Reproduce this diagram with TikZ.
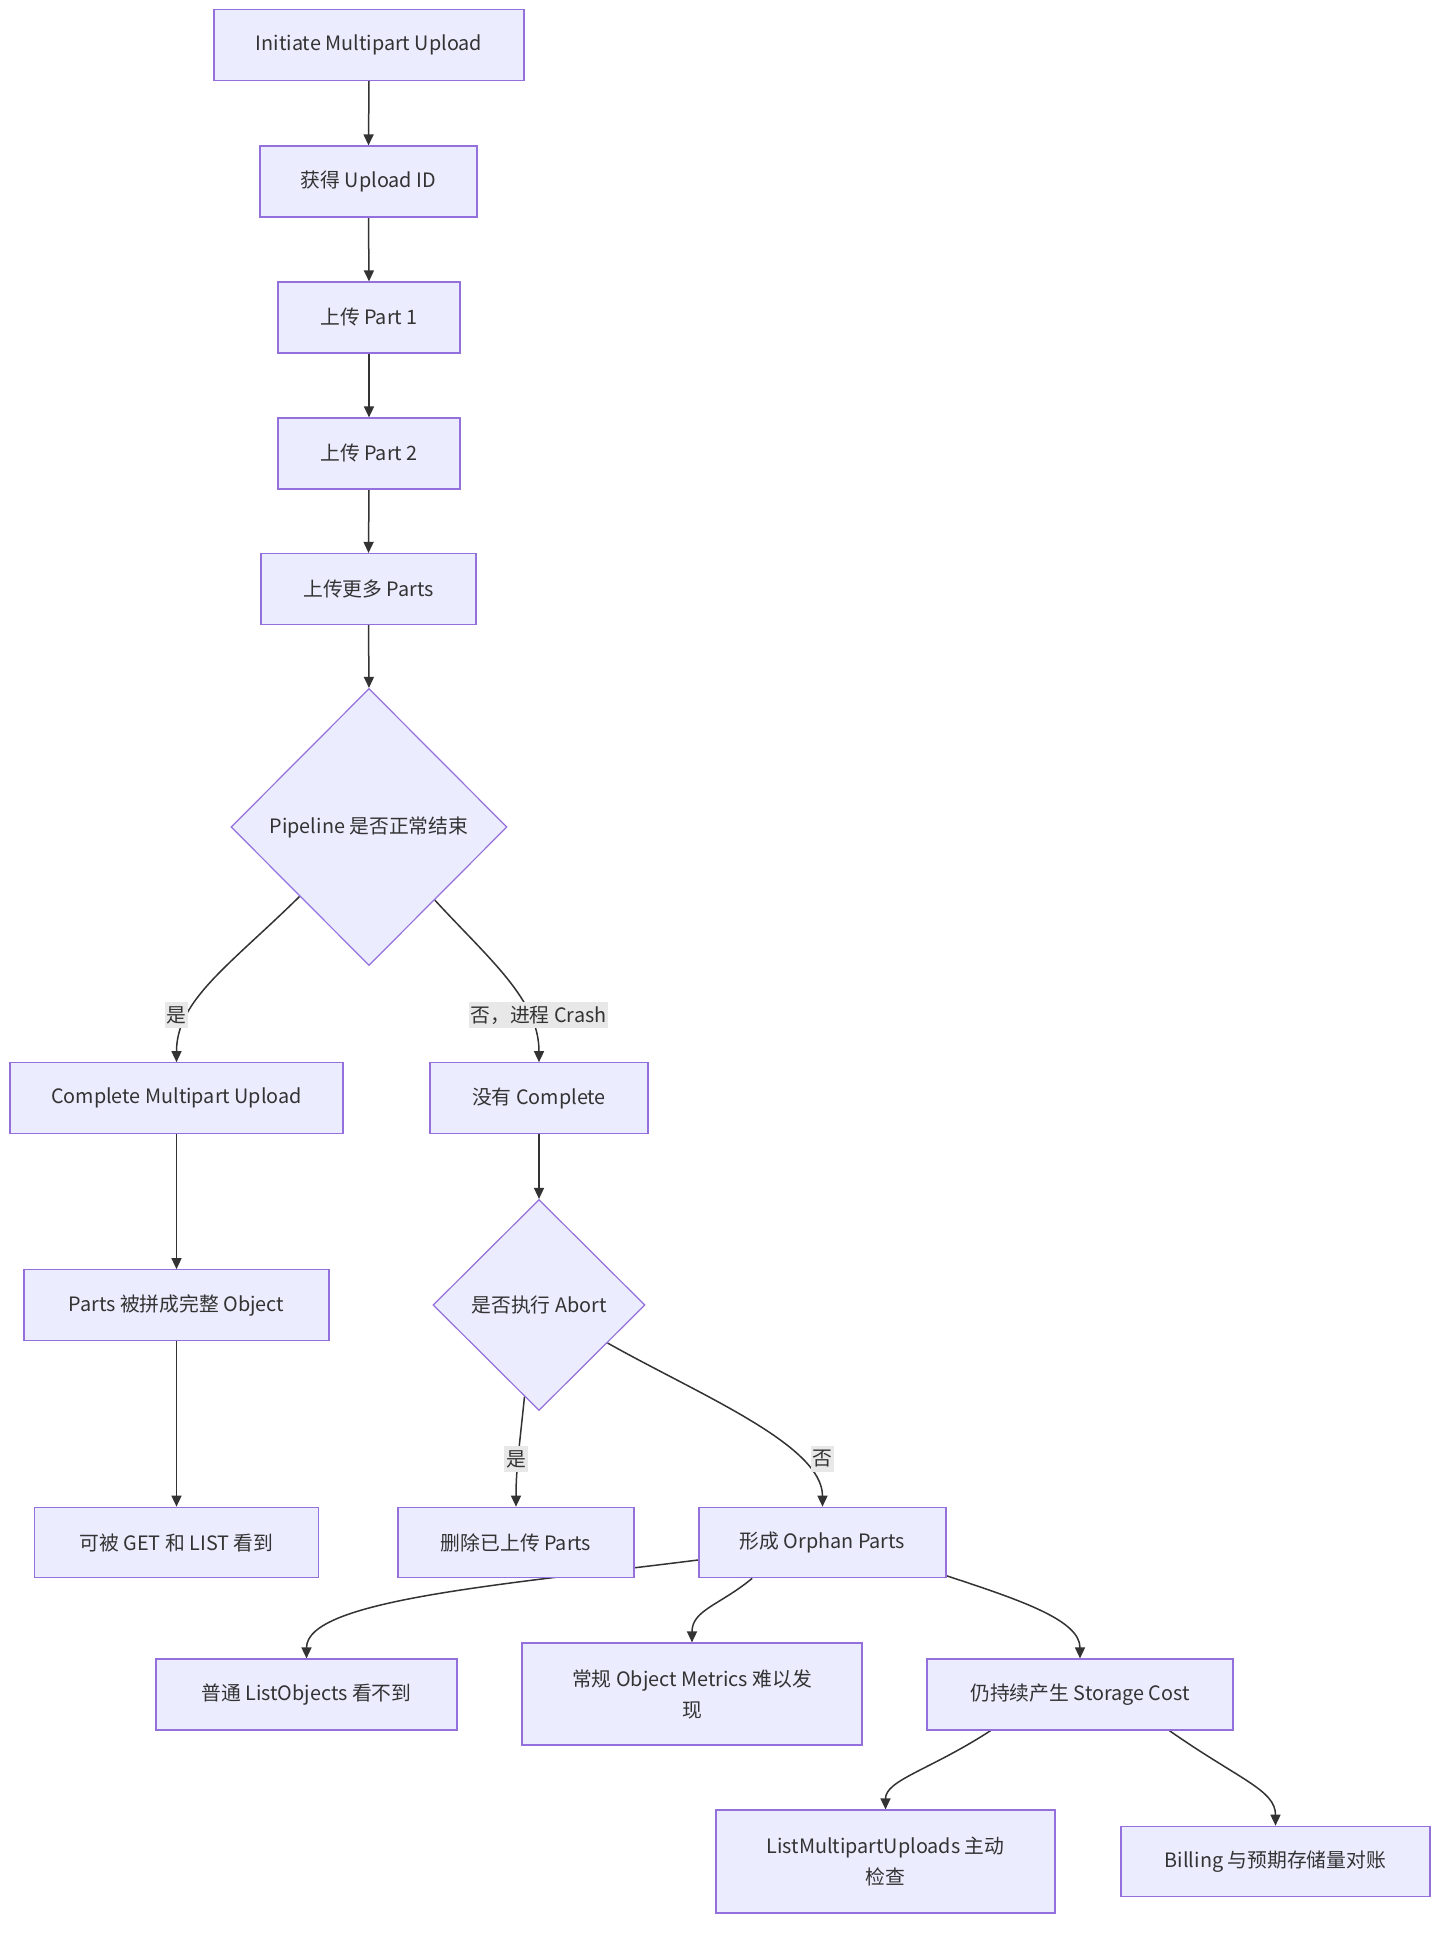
\documentclass[tikz,border=0pt]{standalone}
\usepackage{fontspec}
\setmainfont{Noto Sans CJK SC}
\usetikzlibrary{shapes.geometric,arrows.meta,backgrounds}
\definecolor{nodefill}{HTML}{ECECFF}
\definecolor{nodeline}{HTML}{9370DB}
\definecolor{ink}{HTML}{333333}
\definecolor{lblbg}{HTML}{E8E8E8}
\begin{document}
\begin{tikzpicture}[x=1pt,y=-1pt,
  font=\fontsize{19.8pt}{24pt}\selectfont,
  box/.style={rectangle,draw=nodeline,fill=nodefill,line width=1.2pt,text=ink,inner sep=0pt},
  dia/.style={diamond,aspect=1,draw=nodeline,fill=nodefill,line width=1.2pt,text=ink,inner sep=0pt},
  arr/.style={draw=ink,line width=1.5pt,-{Triangle[length=11pt,width=10pt]}},
  lbl/.style={fill=lblbg,text=ink,inner xsep=2pt,inner ysep=4pt},
  twoline/.style={align=center,font=\fontsize{19.8pt}{31pt}\selectfont}]
\useasboundingbox (0,0) rectangle (1456,1944);
% nodes
\node[box,minimum width=310pt,minimum height=70.5pt] (init) at (369,45) {Initiate Multipart Upload};
\node[box,minimum width=217pt,minimum height=71pt] (uid) at (368.5,181.5) {获得 Upload ID};
\node[box,minimum width=182pt,minimum height=71pt] (p1) at (369,317.5) {上传 Part 1};
\node[box,minimum width=182pt,minimum height=71pt] (p2) at (369,453.5) {上传 Part 2};
\node[box,minimum width=215pt,minimum height=71pt] (more) at (368.5,589) {上传更多 Parts};
\node[dia,minimum width=276pt,minimum height=277pt] (pipe) at (369,827) {Pipeline 是否正常结束};
\node[box,minimum width=333pt,minimum height=70.5pt] (comp) at (176.5,1098) {Complete Multipart Upload};
\node[box,minimum width=218pt,minimum height=70.5pt] (nocomp) at (539,1098) {没有 Complete};
\node[box,minimum width=305pt,minimum height=70.5pt] (assem) at (176.5,1305) {Parts 被拼成完整 Object};
\node[dia,minimum width=212pt,minimum height=211pt] (abort) at (539,1305) {是否执行 Abort};
\node[box,minimum width=283.5pt,minimum height=70.5pt] (visible) at (176.5,1542.5) {可被 GET 和 LIST 看到};
\node[box,minimum width=236pt,minimum height=70.5pt] (del) at (516,1542.5) {删除已上传 Parts};
\node[box,minimum width=247pt,minimum height=70.5pt] (orphan) at (822.5,1542.5) {形成 Orphan Parts};
\node[box,minimum width=301pt,minimum height=71pt] (listobj) at (306.5,1694.5) {普通 ListObjects 看不到};
\node[box,twoline,minimum width=340pt,minimum height=102pt] (metrics) at (692,1694) {常规 Object Metrics 难以发\\现};
\node[box,minimum width=306pt,minimum height=71pt] (cost) at (1080,1694.5) {仍持续产生 Storage Cost};
\node[box,twoline,minimum width=339pt,minimum height=103pt] (lmu) at (885.5,1861.5) {ListMultipartUploads 主动\\检查};
\node[box,minimum width=309pt,minimum height=70.5pt] (billing) at (1275.5,1861.5) {Billing 与预期存储量对账};
% edges behind nodes
\begin{scope}[on background layer]
\fill[white] (0,0) rectangle (1456,1944);
\draw[arr] (init.south) -- (uid.north);
\draw[arr] (uid.south) -- (p1.north);
\draw[arr] (p1.south) -- (p2.north);
\draw[arr] (p2.south) -- (more.north);
\draw[arr] (more.south) -- (pipe.north);
\draw[arr] (pipe.225) .. controls (230,965) and (176.5,1000) .. (comp.north);
\draw[arr] (pipe.-48) .. controls (490,960) and (539,1000) .. (nocomp.north);
\draw[arr] (comp.south) -- (assem.north);
\draw[arr] (assem.south) -- (visible.north);
\draw[arr] (nocomp.south) -- (abort.north);
\draw[arr] (abort.261.5) .. controls (519,1450) and (516,1470) .. (del.north);
\draw[arr] (abort.-29) .. controls (700,1395) and (822.5,1445) .. (orphan.north);
\draw[arr] (orphan.188) .. controls (500,1585) and (306.5,1600) .. (listobj.north);
\draw[arr] (orphan.207.4) .. controls (720,1605) and (692,1610) .. (metrics.north);
\draw[arr] (orphan.-15.2) .. controls (1020,1600) and (1080,1620) .. (cost.north);
\draw[arr] (cost.202.9) .. controls (930,1770) and (885.5,1780) .. (lmu.north);
\draw[arr] (cost.-22.9) .. controls (1240,1780) and (1275.5,1790) .. (billing.north);
\end{scope}
% edge labels
\node[lbl] (l1) at (176.5,1015) {是};
\node[lbl] (l2) at (538.5,1015) {否，进程 Crash};
\node[lbl] (l3) at (516,1459) {是};
\node[lbl] (l4) at (822.5,1459) {否};
\end{tikzpicture}
\end{document}
